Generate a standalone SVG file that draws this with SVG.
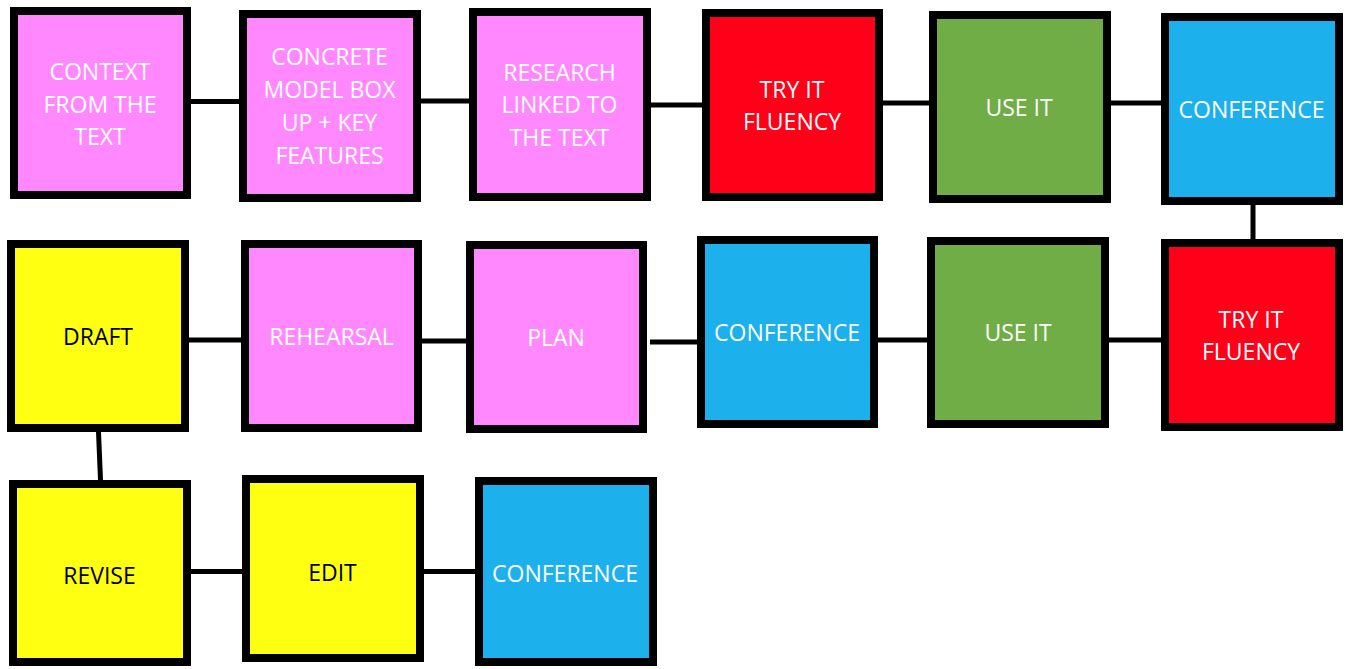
<svg xmlns="http://www.w3.org/2000/svg" width="1345" height="669" viewBox="0 0 1345 669">
  <style>
    .box { stroke: #000; stroke-width: 8; }
    .pink { fill: #FF88FF; }
    .red { fill: #FF0018; }
    .green { fill: #70AD47; }
    .blue { fill: #1CB0EC; }
    .yellow { fill: #FFFF12; }
    .label { font-family: "Open Sans", "Liberation Sans", sans-serif; font-size: 23px; text-anchor: middle; fill: #fff; }
    .dark { fill: #000; }
    .link { stroke: #000; stroke-width: 5; fill: none; }
  </style>
  <rect width="1345" height="669" fill="#fff"/>

  <!-- connectors -->
  <g id="connectors">
    <line class="link" x1="191" y1="101.5" x2="239" y2="101.5"/>
    <line class="link" x1="421" y1="101" x2="469" y2="101"/>
    <line class="link" x1="651" y1="105" x2="702" y2="105"/>
    <line class="link" x1="883" y1="103" x2="929" y2="103"/>
    <line class="link" x1="1111" y1="103" x2="1161" y2="103"/>
    <line class="link" x1="1253" y1="205" x2="1253" y2="239"/>
    <line class="link" x1="189" y1="340" x2="241" y2="340"/>
    <line class="link" x1="422" y1="341" x2="466" y2="341"/>
    <line class="link" x1="650" y1="342" x2="697" y2="342"/>
    <line class="link" x1="878" y1="340" x2="927" y2="340"/>
    <line class="link" x1="1109" y1="340" x2="1161" y2="340"/>
    <line class="link" x1="98.5" y1="432" x2="100.5" y2="480"/>
    <line class="link" x1="191" y1="571.5" x2="242" y2="571.5"/>
    <line class="link" x1="424" y1="571.5" x2="475" y2="571.5"/>
  </g>

  <!-- row 1 -->
  <g id="context">
    <rect class="box pink" x="14" y="11" width="173" height="184"/>
    <text class="label" x="100" y="80">CONTEXT</text>
    <text class="label" x="100" y="112.5">FROM THE</text>
    <text class="label" x="100" y="145">TEXT</text>
  </g>
  <g id="concrete-model">
    <rect class="box pink" x="243" y="14" width="174" height="184"/>
    <text class="label" x="329.5" y="65">CONCRETE</text>
    <text class="label" x="329.5" y="98">MODEL BOX</text>
    <text class="label" x="329.5" y="131">UP + KEY</text>
    <text class="label" x="329.5" y="163.5">FEATURES</text>
  </g>
  <g id="research">
    <rect class="box pink" x="473" y="12" width="174" height="185"/>
    <text class="label" x="559.5" y="81">RESEARCH</text>
    <text class="label" x="559.5" y="113">LINKED TO</text>
    <text class="label" x="559.5" y="145.5">THE TEXT</text>
  </g>
  <g id="try-it-1">
    <rect class="box red" x="706" y="13" width="173" height="184"/>
    <text class="label" x="792" y="97.5">TRY IT</text>
    <text class="label" x="792" y="130">FLUENCY</text>
  </g>
  <g id="use-it-1">
    <rect class="box green" x="933" y="15" width="174" height="184"/>
    <text class="label" x="1019" y="116">USE IT</text>
  </g>
  <g id="conference-1">
    <rect class="box blue" x="1165" y="17" width="174" height="184"/>
    <text class="label" x="1251.5" y="117.5">CONFERENCE</text>
  </g>

  <!-- row 2 -->
  <g id="draft">
    <rect class="box yellow" x="11" y="244" width="174" height="184"/>
    <text class="label dark" x="98" y="345">DRAFT</text>
  </g>
  <g id="rehearsal">
    <rect class="box pink" x="245" y="244" width="173" height="184"/>
    <text class="label" x="331.5" y="345">REHEARSAL</text>
  </g>
  <g id="plan">
    <rect class="box pink" x="470" y="245" width="173" height="184"/>
    <text class="label" x="556" y="345.5">PLAN</text>
  </g>
  <g id="conference-2">
    <rect class="box blue" x="701" y="240" width="173" height="184"/>
    <text class="label" x="787" y="341">CONFERENCE</text>
  </g>
  <g id="use-it-2">
    <rect class="box green" x="931" y="241" width="174" height="183"/>
    <text class="label" x="1018" y="341">USE IT</text>
  </g>
  <g id="try-it-2">
    <rect class="box red" x="1165" y="243" width="174" height="184"/>
    <text class="label" x="1251" y="327.5">TRY IT</text>
    <text class="label" x="1251" y="360">FLUENCY</text>
  </g>

  <!-- row 3 -->
  <g id="revise">
    <rect class="box yellow" x="13" y="484" width="174" height="178"/>
    <text class="label dark" x="99.5" y="584">REVISE</text>
  </g>
  <g id="edit">
    <rect class="box yellow" x="246" y="479" width="174" height="179"/>
    <text class="label dark" x="332.5" y="581">EDIT</text>
  </g>
  <g id="conference-3">
    <rect class="box blue" x="479" y="481" width="174" height="181"/>
    <text class="label" x="565" y="581.5">CONFERENCE</text>
  </g>
</svg>
